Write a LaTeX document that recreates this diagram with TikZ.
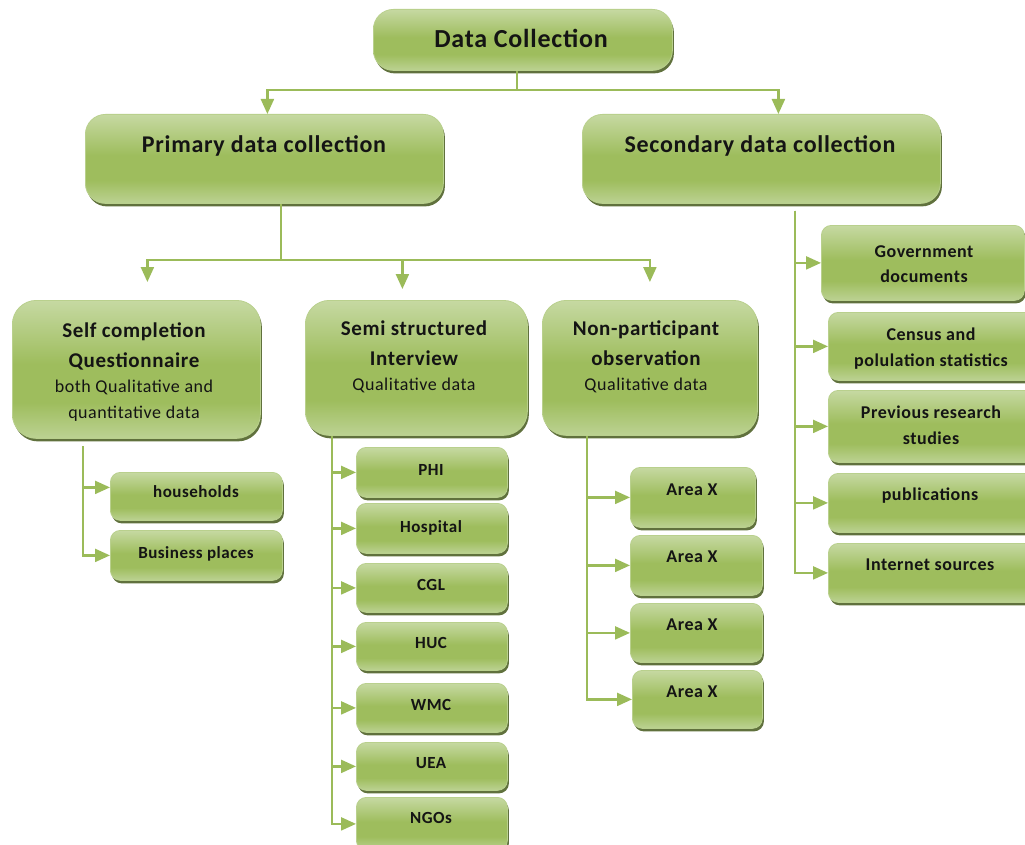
\documentclass[tikz,border=0pt]{standalone}
\usepackage{fontspec}
\setmainfont{Carlito}[LetterSpace=3]
\usetikzlibrary{arrows.meta,shadows,calc}
\definecolor{gT}{HTML}{C6D9A2}
\definecolor{gM}{HTML}{9EBD5D}
\definecolor{gB}{HTML}{BCD293}
\definecolor{gBorder}{HTML}{B9D08D}
\definecolor{gShadow}{HTML}{4F6228}
\definecolor{gLine}{HTML}{9BBB59}
\pgfdeclareverticalshading{gsh}{100bp}{color(0bp)=(gB); color(25bp)=(gB); color(38bp)=(gM); color(52bp)=(gM); color(75bp)=(gT); color(100bp)=(gT)}
\newcommand\fs[1]{\fontsize{#1}{#1}\selectfont}
\newcommand\gbox[6]{\node[gboxst,#6,minimum width={(#4-#2)*1pt},minimum height={(#5-#3)*1pt}] (#1) at (#2,#3) {};}
\newcommand\gtxt[5]{\node[txtst,font=#4] (#1) at (#2,#3) {#5};}
\tikzset{
  gboxst/.style={shading=gsh, draw=gBorder, line width=0.8pt, anchor=north west, inner sep=0pt,
    drop shadow={shadow xshift=1.5pt, shadow yshift=-3pt, fill=gShadow, opacity=0.9}},
  bigr/.style={rounded corners=20pt},
  midr/.style={rounded corners=24pt},
  smallr/.style={rounded corners=10pt},
  txtst/.style={inner sep=0pt, anchor=base, text=black!92},
  ln/.style={draw=gLine, line width=2.2pt},
  arr/.style={draw=gLine, line width=2.2pt, -{Triangle[length=15pt,width=13pt]}},
}
\begin{document}
\begin{tikzpicture}[x=1pt,y=-1pt]
\useasboundingbox (0,0) rectangle (1025,845);
\fill[white] (0,0) rectangle (1025,845);
\clip (0,0) rectangle (1025,845);
% main boxes
\gbox{dc}{373}{9}{672}{70}{bigr}
\gbox{prim}{85}{114}{443}{203}{bigr}
\gbox{sec}{582}{114}{940}{203}{bigr}
\gbox{self}{12}{300}{260}{438}{midr}
\gbox{semi}{305}{300}{527}{435}{midr}
\gbox{nonp}{542}{300}{757}{435}{midr}
% self children
\gbox{hh}{110}{472}{282}{520}{smallr}
\gbox{bp}{110}{530}{282}{580}{smallr}
% semi children
\gbox{phi}{356}{447}{507}{497}{smallr}
\gbox{hosp}{356}{503}{507}{553}{smallr}
\gbox{cgl}{356}{563}{507}{612}{smallr}
\gbox{huc}{356}{622}{507}{670}{smallr}
\gbox{wmc}{356}{683}{507}{732}{smallr}
\gbox{uea}{356}{742}{507}{790}{smallr}
\gbox{ngo}{356}{797}{507}{850}{smallr}
% non-participant children
\gbox{ax1}{630}{467}{755}{527}{smallr}
\gbox{ax2}{630}{535}{762}{595}{smallr}
\gbox{ax3}{630}{603}{762}{662}{smallr}
\gbox{ax4}{632}{670}{762}{728}{smallr}
% secondary children
\gbox{gov}{821}{225}{1024}{300}{smallr}
\gbox{cen}{828}{312}{1035}{380}{smallr}
\gbox{prev}{828}{390}{1035}{462}{smallr}
\gbox{pub}{828}{473}{1035}{532}{smallr}
\gbox{int}{828}{543}{1035}{602}{smallr}
% texts
\gtxt{dct}{521}{48}{\fs{26}\bfseries}{Data Collection}
\gtxt{primt}{264}{153}{\fs{24}\bfseries}{Primary data collection}
\gtxt{sect}{760}{153}{\fs{24}\bfseries}{Secondary data collection}
\gtxt{selft1}{134}{337}{\fs{21}\bfseries}{Self completion}
\gtxt{selft2}{134}{367}{\fs{21}\bfseries}{Questionnaire}
\gtxt{selft3}{134}{392}{\fs{18}}{both Qualitative and}
\gtxt{selft4}{134}{418}{\fs{18}}{quantitative data}
\gtxt{semit1}{414}{335}{\fs{21}\bfseries}{Semi structured}
\gtxt{semit2}{414}{365}{\fs{21}\bfseries}{Interview}
\gtxt{semit3}{414}{390}{\fs{18}}{Qualitative data}
\gtxt{nonpt1}{646}{335}{\fs{21}\bfseries}{Non-participant}
\gtxt{nonpt2}{646}{365}{\fs{21}\bfseries}{observation}
\gtxt{nonpt3}{646}{390}{\fs{18}}{Qualitative data}
\gtxt{hht}{196}{497}{\fs{17}\bfseries}{households}
\gtxt{bpt}{196}{558}{\fs{17}\bfseries}{Business places}
\gtxt{phit}{431}{475}{\fs{17}\bfseries}{PHI}
\gtxt{hospt}{431}{532}{\fs{17}\bfseries}{Hospital}
\gtxt{cglt}{431}{590}{\fs{17}\bfseries}{CGL}
\gtxt{huct}{431}{648}{\fs{17}\bfseries}{HUC}
\gtxt{wmct}{431}{710}{\fs{17}\bfseries}{WMC}
\gtxt{ueat}{431}{768}{\fs{17}\bfseries}{UEA}
\gtxt{ngot}{431}{823}{\fs{17}\bfseries}{NGOs}
\gtxt{ax1t}{692}{495}{\fs{18}\bfseries}{Area X}
\gtxt{ax2t}{692}{562}{\fs{18}\bfseries}{Area X}
\gtxt{ax3t}{692}{630}{\fs{18}\bfseries}{Area X}
\gtxt{ax4t}{692}{697}{\fs{18}\bfseries}{Area X}
\gtxt{govt1}{924}{257}{\fs{18}\bfseries}{Government}
\gtxt{govt2}{924}{282}{\fs{18}\bfseries}{documents}
\gtxt{cent1}{931}{340}{\fs{18}\bfseries}{Census and}
\gtxt{cent2}{931}{366}{\fs{18}\bfseries}{polulation statistics}
\gtxt{prevt1}{931}{418}{\fs{18}\bfseries}{Previous research}
\gtxt{prevt2}{931}{444}{\fs{18}\bfseries}{studies}
\gtxt{pubt}{930}{500}{\fs{18}\bfseries}{publications}
\gtxt{intt}{930}{570}{\fs{18}\bfseries}{Internet sources}
% connectors: level 0 -> 1
\coordinate (j0) at (517,90);
\draw[ln] (dc.south -| j0) -- (j0);
\draw[arr] (j0) -| ($(prim.north)+(3,0)$);
\draw[arr] (j0) -| ($(sec.north)+(17,0)$);
% level 1 -> 2
\coordinate (j1) at (281,260);
\draw[ln] (prim.south -| j1) -- (j1);
\draw[arr, shorten >=18pt] (j1) -| ($(self.north)+(11,0)$);
\draw[arr, shorten >=11pt] (j1) -| ($(semi.north)+(-14,0)$);
\draw[arr, shorten >=18pt] (j1) -| (nonp.north);
% secondary list
\coordinate (tsec) at (795,211);
\foreach \b in {gov,cen,prev,pub,int} \draw[arr] (tsec) |- (\b.west);
% self children
\coordinate (tself) at (83,446);
\draw[arr] (tself) |- ([yshift=9pt]hh.west);
\draw[arr] (tself) |- (bp.west);
% semi children
\coordinate (tsemi) at (332,436);
\foreach \b in {phi,hosp,cgl,huc,wmc,uea,ngo} \draw[arr] (tsemi) |- (\b.west);
% non-participant children
\coordinate (tnonp) at (587,436);
\foreach \b in {ax1,ax2,ax3,ax4} \draw[arr] (tnonp) |- (\b.west);
\end{tikzpicture}
\end{document}
